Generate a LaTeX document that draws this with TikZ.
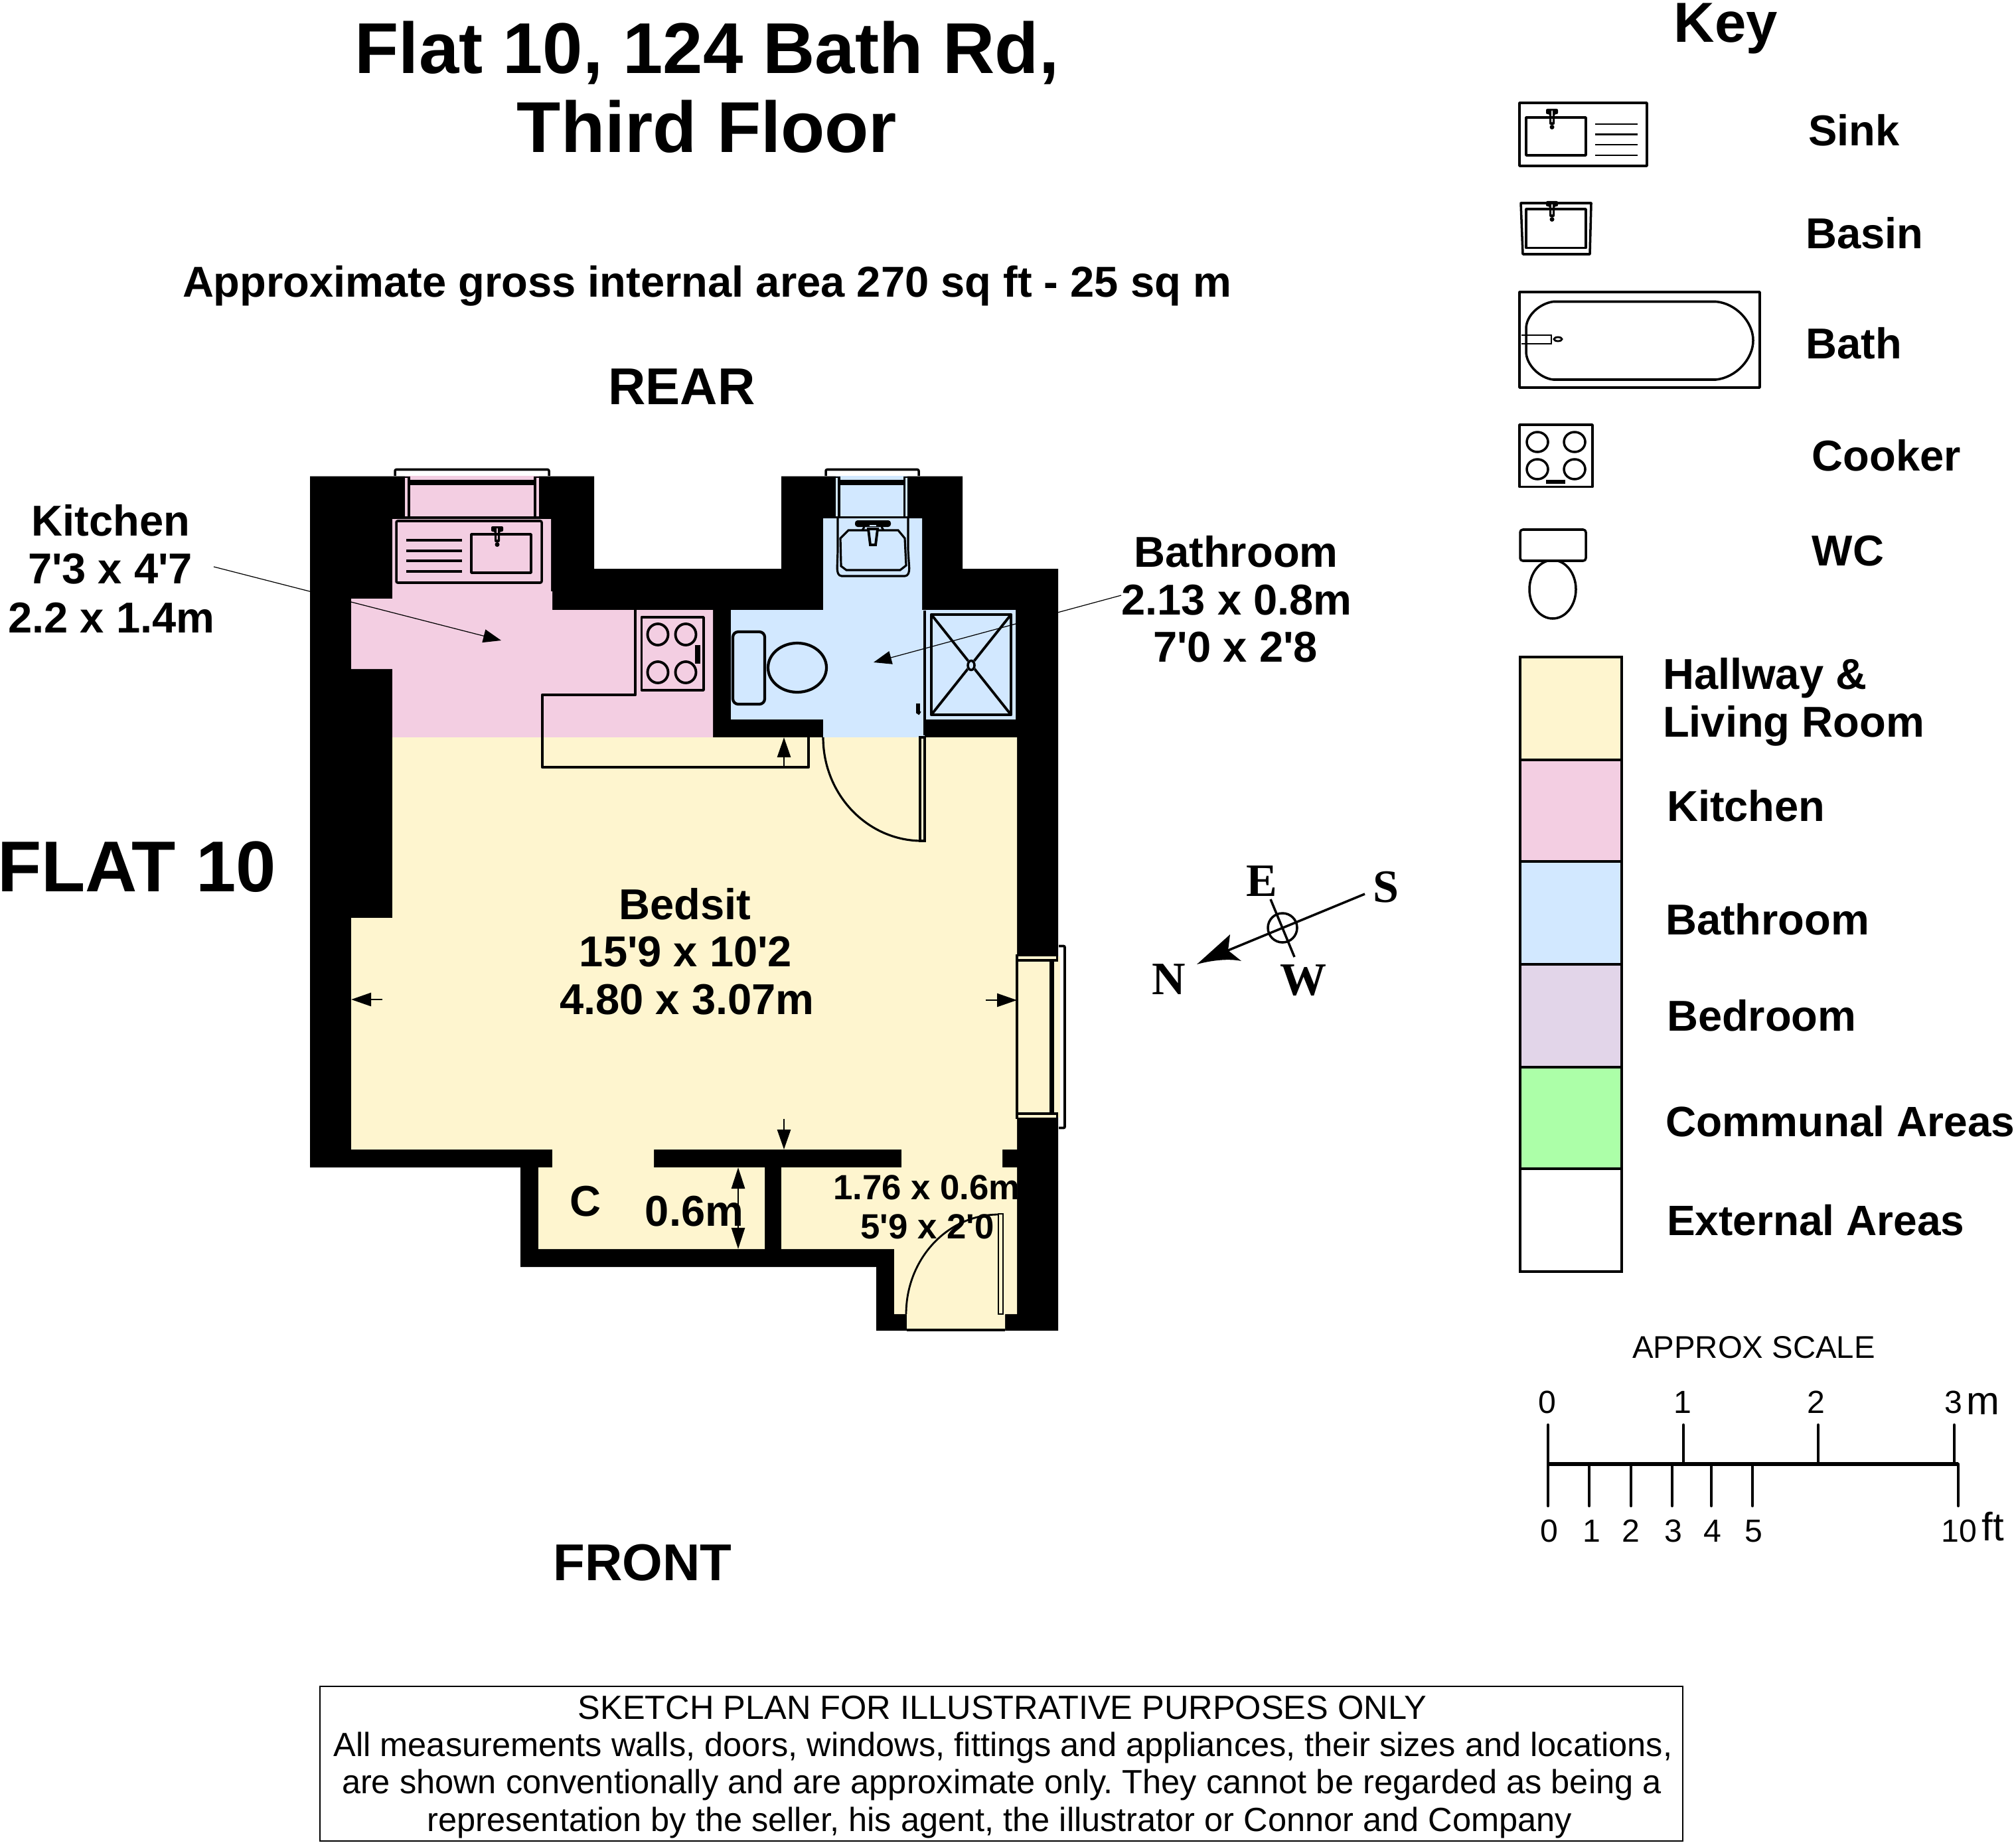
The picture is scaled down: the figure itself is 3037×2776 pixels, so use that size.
\documentclass[tikz,border=0pt]{standalone}
\usepackage{fontspec}
\setmainfont{Liberation Sans}[Ligatures=TeXOff]
\newfontfamily\compassfont{Liberation Serif}
\usetikzlibrary{arrows.meta}
\definecolor{cream}{HTML}{FEF5CF}
\definecolor{pinkroom}{HTML}{F3CEE2}
\definecolor{blueroom}{HTML}{D2E8FF}
\definecolor{lilacroom}{HTML}{E2D5E9}
\definecolor{greenroom}{HTML}{ACFFA8}
\tikzset{
  txt/.style={inner sep=0pt,outer sep=0pt,text depth=0pt,yshift=.57pt},
  bigtitle/.style={txt,text height=22.2pt,font=\fontsize{30.84}{34}\selectfont\bfseries},
  flatlabel/.style={txt,text height=22.2pt,font=\fontsize{30.84}{34}\selectfont\bfseries},
  keytitle/.style={txt,text height=17.4pt,font=\fontsize{24.2}{28}\selectfont\bfseries},
  sidelabel/.style={txt,text height=16pt,font=\fontsize{22.2}{26}\selectfont\bfseries},
  lab/.style={txt,text height=13.3pt,font=\fontsize{18.5}{22}\selectfont\bfseries},
  lablong/.style={txt,text height=13.3pt,font=\fontsize{18.2}{22}\selectfont\bfseries},
  smalllab/.style={txt,text height=10.8pt,font=\fontsize{15}{18}\selectfont\bfseries},
  legal/.style={txt,text height=10.3pt,font=\fontsize{14.37}{17}\selectfont},
  scaletitle/.style={txt,text height=9.4pt,font=\fontsize{13.45}{16}\selectfont},
  digit/.style={txt,text height=9.9pt,font=\fontsize{13.7}{16}\selectfont},
  unitlab/.style={txt,text height=12.2pt,font=\fontsize{17}{20}\selectfont},
  compass/.style={txt,text height=13.1pt,font=\fontsize{19.9}{23}\selectfont\compassfont\bfseries},
  fitting/.style={draw=black,line width=1pt,line join=round},
  heavy/.style={draw=black,line width=1.25pt,line join=round},
  leader/.style={draw=black,line width=.35pt},
  dim/.style={draw=black,line width=.8pt,-{Stealth[length=3mm,width=2mm,inset=0pt]}},
  leadtip/.style={-{Stealth[length=2.7mm,width=2mm,inset=0pt]}},
  tick/.style={draw=black,line width=1.25pt,line cap=round},
  swatch/.style={draw=black,line width=.9pt},
  tapmark/.pic={
    \fill[even odd rule,rounded corners=.2mm] (-9,0)--(9,0)--(9,8)--(4,8)--(4,24)--(-4,24)--(-4,8)--(-9,8)--cycle (-1,2)--(1,2)--(1,21)--(-1,21)--cycle;
    \fill (0,27.5) circle (3.5);
  }
}
\begin{document}
\frenchspacing
\begin{tikzpicture}[x=0.01cm,y=-0.01cm]
\useasboundingbox (0,0) rectangle (3037,2776);

% ---- walls
\fill[black] (467,717.5)--(895,717.5)--(895,857)--(1177,857)--(1177,717.5)--(1450,717.5)--(1450,857)--(1594,857)--(1594,2005)--(1320,2005)--(1320,1909)--(784,1909)--(784,1759)--(467,1759)--cycle;

% ---- room floors
\fill[pinkroom] (591,782)--(830,782)--(830,891)--(832,891)--(832,919)--(1074,919)--(1074,1111)--(591,1111)--(591,1008)--(529,1008)--(529,902)--(591,902)--cycle;
\fill[blueroom] (1240,781)--(1389,781)--(1389,919)--(1530,919)--(1530,1084)--(1393,1084)--(1393,1111)--(1240,1111)--(1240,1084)--(1101,1084)--(1101,919)--(1240,919)--cycle;
\fill[cream] (591,1111)--(1532,1111)--(1532,1732)--(1510,1732)--(1510,1759)--(1532,1759)--(1532,1980)--(1514,1980)--(1514,2005)--(1366,2005)--(1366,1980)--(1347,1980)--(1347,1882)--(1177,1882)--(1177,1759)--(1358,1759)--(1358,1732)--(985,1732)--(985,1759)--(1152,1759)--(1152,1882)--(811,1882)--(811,1759)--(832,1759)--(832,1732)--(529,1732)--(529,1383)--(591,1383)--cycle;

% ---- rear windows
\draw[fitting,rounded corners=.2mm] (595,717)--(595,707.5)--(827,707.5)--(827,717);
\fill[pinkroom] (610,716.5) rectangle (812,778);
\fill (608,717.5) rectangle (618,720);
\fill (804,717.5) rectangle (814,720);
\fill (614,720) rectangle (618,778);
\fill (804,720) rectangle (808,778);
\fill (617,723) rectangle (805,731);
\draw[fitting,rounded corners=.2mm] (1244,717)--(1244,707.5)--(1384,707.5)--(1384,717);
\fill[blueroom] (1259,716.5) rectangle (1367,778);
\fill (1258,717.5) rectangle (1266,720);
\fill (1361,717.5) rectangle (1369,720);
\fill (1262,720) rectangle (1266,778);
\fill (1361,720) rectangle (1364,778);
\fill (1265,723) rectangle (1362,731);

% ---- side window
\fill[cream] (1532,1441) rectangle (1597,1684);
\fill (1532,1445) rectangle (1594,1449);
\fill (1591,1441) rectangle (1594,1449);
\fill (1532,1676) rectangle (1594,1680);
\fill (1591,1676) rectangle (1594,1684);
\fill (1581,1449) rectangle (1588,1676);
\draw[line width=1.1pt] (1532,1438)--(1532,1686);
\draw[line width=1.1pt,rounded corners=.2mm] (1595,1425.5)--(1604,1425.5)--(1604,1699.5)--(1595,1699.5);

% ---- kitchen fittings
\draw[heavy] (957,919)--(957,1047)--(817,1047)--(817,1156)--(1218,1156)--(1218,1111);
\draw[fitting,rounded corners=.2mm] (597,785) rectangle (816,878);
\draw[fitting] (710,805) rectangle (800,863);
\draw[line width=1.3pt] (612,814)--(696,814) (612,830)--(696,830) (612,845)--(696,845) (612,861)--(696,861);
\pic at (749,793) {tapmark};
\draw[fitting] (966.5,930) rectangle (1060,1040);
\foreach \cx/\cy in {991/956,1033/956,991/1013,1033/1013}
  \draw[line width=1.1pt] (\cx,\cy) ellipse [x radius=15.5,y radius=16];
\fill (1047,972) rectangle (1055,1000);

% ---- bathroom fittings
\draw[line width=.9pt,rounded corners=.4mm] (1262,781)--(1262,830)--(1261,860)--(1264,868)--(1367,868)--(1370,860)--(1368,830)--(1368,781);
\draw[line width=.9pt] (1266,811)--(1278,799)--(1353,799)--(1363,811)--(1365,852)--(1356,859)--(1275,859)--(1267,853)--cycle;
\fill[rounded corners=.4mm] (1288,784) rectangle (1342,794);
\fill[blueroom] (1310,790.5) rectangle (1320,792.5);
\draw[line width=.9pt] (1302,794)--(1299,799) (1328,794)--(1331,799);
\draw[line width=1.1pt,fill=blueroom] (1308,797)--(1311,821)--(1319,821)--(1322,797)--cycle;
\draw[line width=1.2pt,rounded corners=.8mm] (1104,952) rectangle (1152,1061);
\draw[line width=1.2pt] (1201,1006) ellipse [x radius=44,y radius=37];
\draw[line width=.9pt] (1393,920)--(1393,1108);
\draw[heavy] (1403,926) rectangle (1523,1077);
\draw[line width=1.1pt] (1403,926)--(1523,1077) (1523,926)--(1403,1077);
\fill[blueroom] (1463,1002.5) ellipse [x radius=7,y radius=9];
\draw[line width=1pt] (1463,1002.5) ellipse [x radius=5,y radius=7];
\draw[line width=1.6pt] (1383,1060)--(1383,1073)--(1386,1075);

% ---- doors
\draw[line width=.9pt] (1386,1111) rectangle (1393,1267);
\draw[line width=.9pt] (1240,1111) arc[start angle=180,end angle=90,x radius=149,y radius=156];
\draw[line width=.8pt] (1504,1829) rectangle (1511,1980);
\draw[line width=.8pt] (1365,1980) arc[start angle=180,end angle=270,x radius=139,y radius=150];
\draw[line width=.9pt] (1366,2004)--(1514,2004);

% ---- leader and dimension anchors
\coordinate (kitStart) at (322,854);
\coordinate (kitTip) at (755,965);
\coordinate (bathStart) at (1689,897);
\coordinate (bathTip) at (1316,998);
\coordinate (lwTail) at (576,1506);
\coordinate (lwTip) at (529,1506);
\coordinate (rwTail) at (1485,1507);
\coordinate (rwTip) at (1532,1507);
\coordinate (dnTail) at (1181,1686);
\coordinate (dnTip) at (1181,1732);
\coordinate (upTail) at (1181,1156);
\coordinate (upTip) at (1181,1111);
\coordinate (clTop) at (1112,1759);
\coordinate (clBot) at (1112,1882);
\draw[leader,leadtip] (kitStart)--(kitTip);
\draw[leader,leadtip] (bathStart)--(bathTip);
\draw[dim] (lwTail)--(lwTip);
\draw[dim] (rwTail)--(rwTip);
\draw[dim] (dnTail)--(dnTip);
\draw[dim] (upTail)--(upTip);
\draw[dim,{Stealth[length=3.2mm,width=2mm,inset=0pt]}-{Stealth[length=3.2mm,width=2mm,inset=0pt]}] (clTop)--(clBot);

% ---- plan text
\node[bigtitle] (t1) at (1065,73) {Flat 10, 124 Bath Rd,};
\node[bigtitle] (t2) at (1065,192) {Third Floor};
\node[lab] (area) at (1065,426) {Approximate gross internal area 270 sq ft - 25 sq m};
\node[sidelabel] (rear) at (1027,583) {REAR};
\node[sidelabel] (front) at (968,2355) {FRONT};
\node[flatlabel,anchor=west] (flat) at (-4,1306) {FLAT 10};
\node[lab] (k1) at (167,786) {Kitchen};
\node[lab] (k2) at (166,858) {7'3 x 4'7};
\node[lab] (k3) at (168,932) {2.2 x 1.4m};
\node[lab] (b1) at (1862,833) {Bathroom};
\node[lab] (b2) at (1863,905) {2.13 x 0.8m};
\node[lab] (b3) at (1861,976) {7'0 x 2'8};
\node[lab] (s1) at (1032,1364) {Bedsit};
\node[lab] (s2) at (1033,1435) {15'9 x 10'2};
\node[lab] (s3) at (1035,1507) {4.80 x 3.07m};
\node[lab] (cup) at (882,1811) {C};
\node[lab] (cupd) at (1046,1826) {0.6m};
\node[smalllab] (h1) at (1396,1790) {1.76 x 0.6m};
\node[smalllab] (h2) at (1397,1849) {5'9 x 2'0};

% ---- compass
\coordinate (nTip) at (1803,1453);
\coordinate (sEnd) at (2056,1347);
\coordinate (nHead) at (1850,1432);
\coordinate (eEnd) at (1914,1355);
\coordinate (wEnd) at (1950,1442);
\draw[line width=1pt] (sEnd)--(nHead);
\draw[line width=1pt] (eEnd)--(wEnd);
\draw[line width=1pt] (1932,1398) circle (22);
\fill (nTip)--(1853,1408)--(nHead)--(1870,1448)..controls(1850,1444)and(1825,1447)..cycle;
\node[compass] (cE) at (1901,1329) {E};
\node[compass] (cS) at (2088,1338) {S};
\node[compass] (cN) at (1761,1477) {N};
\node[compass] (cW) at (1963,1478) {W};

% ---- key
\node[keytitle] (key) at (2600,35) {Key};
\draw[fitting] (2289,155) rectangle (2481,250);
\draw[fitting] (2299,177) rectangle (2389,234);
\draw[line width=.8pt] (2403,187)--(2467,187) (2403,202.5)--(2467,202.5) (2403,218)--(2467,218) (2403,234)--(2467,234);
\pic at (2338,164) {tapmark};
\draw[fitting] (2291,306)--(2397,306)--(2395,383)--(2294,383)--cycle;
\draw[fitting] (2299,315) rectangle (2389,373.5);
\pic at (2338,303) {tapmark};
\draw[fitting] (2289,440) rectangle (2651,584);
\draw[fitting] (2340,454.5)--(2585,454.5)..controls(2615,457)and(2641,485)..(2641,513)..controls(2641,541)and(2615,569)..(2585,572)--(2340,572)..controls(2320,570)and(2299,550)..(2299,530)--(2299,495)..controls(2299,475)and(2320,457)..(2340,454.5)--cycle;
\draw[line width=.8pt] (2292,505)--(2337,505)--(2337,518)--(2292,518);
\draw[line width=.8pt] (2347,511) ellipse [x radius=6,y radius=3];
\draw[fitting] (2289,640) rectangle (2399,733.5);
\foreach \cx/\cy in {2316/666,2372/666,2316/707,2372/707}
  \draw[line width=1pt] (\cx,\cy) ellipse [x radius=16,y radius=15];
\fill (2329,722.5) rectangle (2358,728.5);
\draw[fitting,rounded corners=.4mm] (2290,798) rectangle (2389,845);
\begin{scope}
\clip (2280,845) rectangle (2400,940);
\draw[fitting] (2339,888) ellipse [x radius=35,y radius=44];
\end{scope}
\node[lab] (kSink) at (2793,198) {Sink};
\node[lab] (kBasin) at (2809,353) {Basin};
\node[lab] (kBath) at (2793,519) {Bath};
\node[lab] (kCooker) at (2842,688) {Cooker};
\node[lab] (kWC) at (2784,831) {WC};

\draw[swatch,fill=cream] (2290,990) rectangle (2443,1145);
\draw[swatch,fill=pinkroom] (2290,1145) rectangle (2443,1298);
\draw[swatch,fill=blueroom] (2290,1298) rectangle (2443,1453);
\draw[swatch,fill=lilacroom] (2290,1453) rectangle (2443,1608);
\draw[swatch,fill=greenroom] (2290,1608) rectangle (2443,1761);
\draw[swatch,fill=white] (2290,1761) rectangle (2443,1916);
\node[lab,anchor=west] (l1a) at (2505,1017) {Hallway \&};
\node[lab,anchor=west] (l1b) at (2505,1089) {Living Room};
\node[lab,anchor=west] (l2) at (2511,1216) {Kitchen};
\node[lab,anchor=west] (l3) at (2509,1387) {Bathroom};
\node[lab,anchor=west] (l4) at (2511,1532) {Bedroom};
\node[lablong,anchor=west] (l5) at (2509,1691) {Communal Areas};
\node[lablong,anchor=west] (l6) at (2511,1840) {External Areas};

% ---- scale bar
\node[scaletitle] (st) at (2642,2032) {APPROX SCALE};
\draw[line width=1.7pt] (2332,2206)--(2950,2206);
\foreach \tx in {2332,2536,2739,2944} \draw[tick] (\tx,2147)--(\tx,2206);
\foreach \tx in {2332,2394,2457,2519,2578,2640,2950} \draw[tick] (\tx,2206)--(\tx,2269);
\node[digit] (m0) at (2331,2114) {0};
\node[digit] (m1) at (2535,2114) {1};
\node[digit] (m2) at (2736,2114) {2};
\node[digit] (m3) at (2943,2114) {3};
\node[unitlab] (mu) at (2987,2112) {m};
\node[digit] (f0) at (2334,2308) {0};
\node[digit] (f1) at (2398,2308) {1};
\node[digit] (f2) at (2457,2308) {2};
\node[digit] (f3) at (2521,2308) {3};
\node[digit] (f4) at (2580,2308) {4};
\node[digit] (f5) at (2642,2308) {5};
\node[digit] (f10) at (2951,2308) {10};
\node[unitlab] (fu) at (3002,2302) {ft};

% ---- disclaimer
\draw[line width=.8pt] (482,2541) rectangle (2535,2774);
\node[legal] (d1) at (1510,2574) {SKETCH PLAN FOR ILLUSTRATIVE PURPOSES ONLY};
\node[legal] (d2) at (1511,2630) {All measurements walls, doors, windows, fittings and appliances, their sizes and locations,};
\node[legal] (d3) at (1509,2686) {are shown conventionally and are approximate only. They cannot be regarded as being a};
\node[legal] (d4) at (1506,2743) {representation by the seller, his agent, the illustrator or Connor and Company};
\end{tikzpicture}
\end{document}
